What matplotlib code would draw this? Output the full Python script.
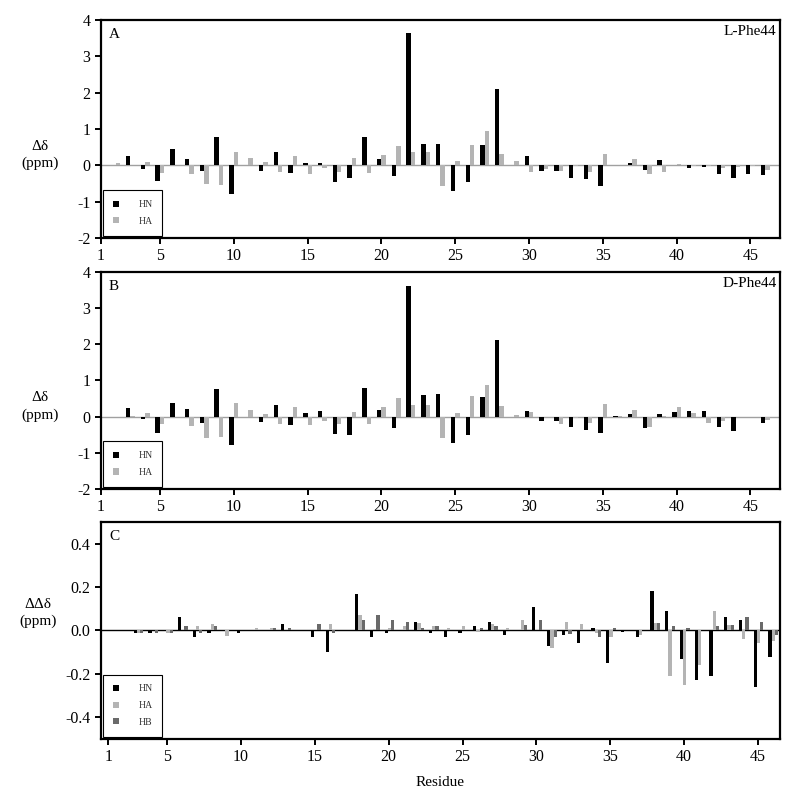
import numpy as np
import matplotlib
matplotlib.use("Agg")
import matplotlib.pyplot as plt
from matplotlib.patches import Patch

plt.rcParams['font.family'] = ['Liberation Serif', 'DejaVu Serif']
plt.rcParams['axes.unicode_minus'] = False

residues = np.arange(1, 47)

# panel A: L-Phe44
hn_a = [0, 0, 0.25, -0.09, -0.43, 0.44, 0.17, -0.17, 0.77, -0.79,
        0, -0.16, 0.36, -0.22, 0.06, 0.07, -0.46, -0.35, 0.77, 0.17,
        -0.29, 3.65, 0.58, 0.60, -0.72, -0.46, 0.56, 2.09, 0, 0.27,
        -0.17, -0.15, -0.35, -0.37, -0.58, 0.01, 0.06, -0.12, 0.15, 0,
        -0.06, -0.05, -0.23, -0.35, -0.25, -0.27]
ha_a = [0, 0.06, 0.02, 0.09, -0.20, 0, -0.23, -0.52, -0.53, 0.37,
        0.20, 0.09, -0.19, 0.27, -0.23, -0.08, -0.18, 0.19, -0.20, 0.28,
        0.52, 0.36, 0.36, -0.57, 0.12, 0.55, 0.94, 0.30, 0.12, -0.19,
        -0.11, -0.16, -0.02, -0.18, 0.32, 0.01, 0.18, -0.23, -0.18, 0.05,
        -0.02, -0.02, -0.08, -0.05, -0.02, -0.14]

# panel B: D-Phe44
hn_b = [0, 0, 0.25, -0.07, -0.44, 0.39, 0.20, -0.18, 0.77, -0.79,
        0, -0.16, 0.33, -0.22, 0.09, 0.17, -0.48, -0.52, 0.80, 0.18,
        -0.31, 3.61, 0.60, 0.63, -0.72, -0.50, 0.53, 2.11, 0, 0.15,
        -0.12, -0.13, -0.29, -0.37, -0.44, 0.01, 0.08, -0.30, 0.06, 0.13,
        0.15, 0.15, -0.28, -0.40, 0, -0.17]
ha_b = [0, 0, 0.03, 0.09, -0.19, 0, -0.26, -0.58, -0.55, 0.37,
        0.18, 0.08, -0.19, 0.27, -0.24, -0.11, -0.21, 0.13, -0.21, 0.28,
        0.51, 0.32, 0.33, -0.60, 0.11, 0.56, 0.88, 0.29, 0.05, 0.13,
        -0.01, -0.20, -0.03, -0.17, 0.36, 0.01, 0.18, -0.28, 0.02, 0.28,
        0.10, -0.17, -0.13, 0, 0, -0.09]

# panel C: difference
hn_c = [0, 0, -0.01, -0.01, 0, 0.06, -0.03, -0.01, 0, -0.01,
        0, 0, 0.03, 0, -0.03, -0.10, 0, 0.17, -0.03, -0.01,
        0, 0.04, -0.01, -0.03, -0.01, 0.02, 0.04, -0.02, 0, 0.11,
        -0.07, -0.02, -0.06, 0.01, -0.15, -0.005, -0.03, 0.18, 0.09, -0.13,
        -0.23, -0.21, 0.06, 0.05, -0.26, -0.12]
ha_c = [0, 0, -0.01, 0, -0.01, 0, 0.02, 0.03, -0.025, 0,
        0.01, 0.01, 0, 0, 0, 0.03, 0, 0.07, 0.005, 0.01,
        0.02, 0.035, 0.02, 0.01, 0.02, -0.005, 0.03, 0.01, 0.05, 0,
        -0.08, 0.04, 0.03, -0.01, -0.03, 0, -0.02, 0.035, -0.21, -0.25,
        -0.16, 0.09, 0.025, -0.04, -0.06, -0.05]
hb_c = [0, 0, -0.01, -0.01, -0.01, 0.02, -0.01, 0.02, 0, 0,
        0, 0.01, 0.01, 0, 0.03, -0.01, 0, 0.05, 0.07, 0.05,
        0.04, 0.012, 0.02, 0, 0, 0.01, 0.02, 0, 0.025, 0.05,
        -0.03, -0.015, 0, -0.03, 0.01, 0, 0, 0.035, 0.02, 0.01,
        0, 0.02, 0.025, 0.06, 0.04, -0.02]

c_hn = '#000000'
c_ha = '#b4b4b4'
c_hb = '#6a6a6a'
xticks = [1, 5, 10, 15, 20, 25, 30, 35, 40, 45]

fig = plt.figure(figsize=(8, 8.1), dpi=100)
axA = fig.add_axes([0.126, 0.7062, 0.849, 0.2691])
axB = fig.add_axes([0.126, 0.3963, 0.849, 0.2679])
axC = fig.add_axes([0.126, 0.0877, 0.849, 0.2679])


def style(ax):
    for s in ax.spines.values():
        s.set_linewidth(1.6)
    ax.tick_params(direction='out', length=4, width=1.4, labelsize=11.5,
                   top=False, right=False)
    ax.set_xticks(xticks)


def legend(ax, labels, colors):
    handles = [Patch(facecolor=c, edgecolor='none') for c in colors]
    leg = ax.legend(handles, labels, loc='lower left', fontsize=7,
                    handlelength=0.6, handleheight=0.6, handletextpad=2.0,
                    borderpad=1.0, labelspacing=0.8, borderaxespad=0.25,
                    fancybox=False, framealpha=1)
    leg.get_frame().set_edgecolor('black')
    leg.get_frame().set_linewidth(0.8)
    for t in leg.get_texts():
        t.set_color('#333333')


for ax, hn, ha, letter, name in [(axA, hn_a, ha_a, 'A', 'L-Phe44'),
                                 (axB, hn_b, ha_b, 'B', 'D-Phe44')]:
    ax.axhline(0, color='#a0a0a0', lw=1, zorder=1)
    ax.bar(residues - 0.15, hn, width=0.3, color=c_hn, zorder=2)
    ax.bar(residues + 0.15, ha, width=0.3, color=c_ha, zorder=2)
    ax.set_xlim(1, 47)
    ax.set_ylim(-2, 4)
    ax.set_yticks([-2, -1, 0, 1, 2, 3, 4])
    style(ax)
    ax.text(0.012, 0.965, letter, transform=ax.transAxes, fontsize=11,
            ha='left', va='top')
    ax.text(0.995, 0.975, name, transform=ax.transAxes, fontsize=11,
            ha='right', va='top')
    ax.set_ylabel('Δδ\n(ppm)', rotation=0, fontsize=11, ha='center',
                  va='center', linespacing=1.4)
    ax.yaxis.set_label_coords(-0.09, 0.38)
    legend(ax, ['HN', 'HA'], [c_hn, c_ha])

axC.axhline(0, color='black', lw=1, zorder=1)
axC.bar(residues - 0.17, hn_c, width=0.22, color=c_hn, zorder=2)
axC.bar(residues + 0.05, ha_c, width=0.22, color=c_ha, zorder=2)
axC.bar(residues + 0.27, hb_c, width=0.22, color=c_hb, zorder=2)
axC.set_xlim(0.5, 46.5)
axC.set_ylim(-0.5, 0.5)
axC.set_yticks([-0.4, -0.2, 0.0, 0.2, 0.4])
axC.set_yticklabels(['-0.4', '-0.2', '0.0', '0.2', '0.4'])
style(axC)
axC.text(0.012, 0.965, 'C', transform=axC.transAxes, fontsize=11,
         ha='left', va='top')
axC.set_ylabel('ΔΔδ\n(ppm)', rotation=0, fontsize=11, ha='center',
               va='center', linespacing=1.4)
axC.yaxis.set_label_coords(-0.093, 0.58)
axC.set_xlabel('Residue', fontsize=11, labelpad=8)
legend(axC, ['HN', 'HA', 'HB'], [c_hn, c_ha, c_hb])

fig.savefig('out.png', dpi=100)
